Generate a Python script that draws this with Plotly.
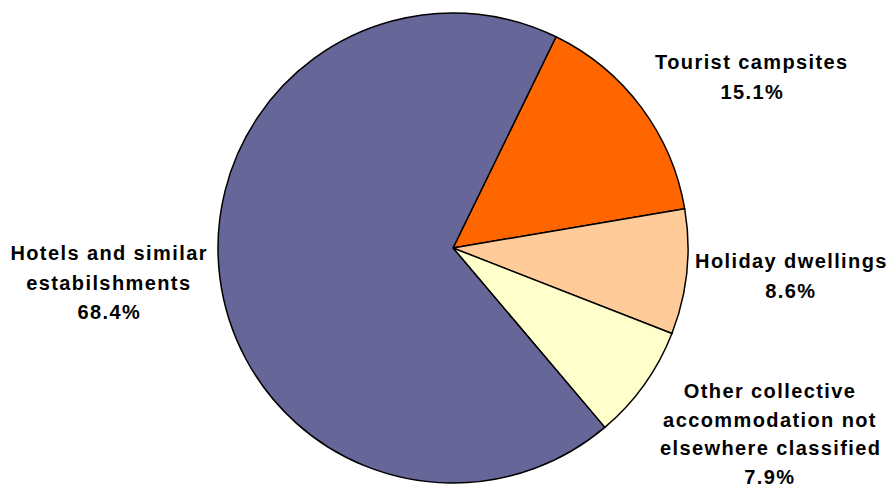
import plotly.graph_objects as go

categories = ["Tourist campsites", "Holiday dwellings",
              "Other collective accommodation not elsewhere classified",
              "Hotels and similar estabilshments"]
values = [15.1, 8.6, 7.9, 68.4]
colors = ["#FF6600", "#FFCC99", "#FFFFCC", "#666699"]
label_lines = [
    ["Tourist campsites", "15.1%"],
    ["Holiday dwellings", "8.6%"],
    ["Other collective", "accommodation not", "elsewhere classified", "7.9%"],
    ["Hotels and similar", "estabilshments", "68.4%"],
]
# label anchor positions in pixels (center x, first line y, line gap)
label_pos = [(752, 62, 29.5), (791, 261, 29.5), (770, 391, 28.5), (109, 253, 29.5)]

W, H = 890, 488
cx, cy, r = 453, 248, 235

fig = go.Figure(go.Pie(
    labels=categories, values=values, sort=False, direction="clockwise",
    rotation=26, textinfo="none", hoverinfo="label+percent",
    marker=dict(colors=colors, line=dict(color="black", width=1.5)),
    domain=dict(x=[(cx - r) / W, (cx + r) / W], y=[(H - cy - r) / H, (H - cy + r) / H]),
    showlegend=False,
))

anns = []
for lines, (x, y, gap) in zip(label_lines, label_pos):
    for i, t in enumerate(lines):
        anns.append(dict(text="<b>" + t + "</b>", x=x / W, y=1 - (y + i * gap) / H,
                         xref="paper", yref="paper", showarrow=False,
                         xanchor="center", yanchor="middle",
                         font=dict(family="Liberation Sans, Arial", size=20, color="black")))

fig.update_layout(width=W, height=H, margin=dict(l=0, r=0, t=0, b=0),
                  paper_bgcolor="white", plot_bgcolor="white", annotations=anns)

post = """
document.body.style.margin='0';
document.querySelectorAll('.annotation-text').forEach(function(e){e.style.letterSpacing='1.4px';});
"""
fig.write_html("out.html", post_script=post, config={"displayModeBar": False})
